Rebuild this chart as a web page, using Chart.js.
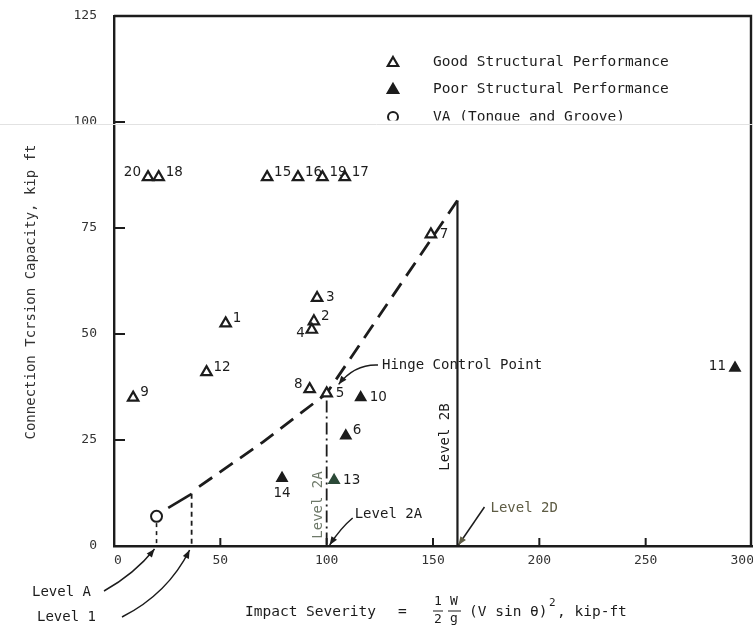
<!DOCTYPE html>
<html>
<head>
<meta charset="utf-8">
<script src="https://cdn.jsdelivr.net/npm/chart.js@4/dist/chart.umd.min.js"></script>
<style>
  html, body { margin: 0; padding: 0; background: #fff; }
  #wrap { width: 753px; height: 628px; }
</style>
</head>
<body>
<div id="wrap"><canvas id="c" width="753" height="628"></canvas></div>
<script>
// Axis ticks
const xTicks = [0, 50, 100, 150, 200, 250, 300];
const yTicks = [0, 25, 50, 75, 100, 125];

// Test results: impact severity (kip-ft) vs. connection torsion capacity (kip ft)
const goodIds = ['20', '18', '15', '16', '19', '17', '7', '3', '2', '4', '1', '12', '9', '8', '5'];
const goodX   = [16, 21, 72, 86.5, 98, 108.5, 149, 95.5, 94, 93, 52.5, 43.5, 9, 92, 100];
const goodY   = [87, 87, 87, 87, 87, 87, 73.5, 58.5, 53, 51, 52.5, 41, 35, 37, 36];

const poorIds = ['10', '6', '13', '14', '11'];
const poorX   = [116, 109, 103.5, 79, 292];
const poorY   = [35, 26, 15.5, 16, 42];

const vaX = [20];
const vaY = [7];

// Performance level boundaries
const lowSegX = [25.5, 36.5];
const lowSegY = [9, 12.3];
const curveX  = [40, 70, 100, 161.5];
const curveY  = [14, 24.5, 36, 81.5];
const levelAX  = [20, 20];       const levelAY  = [5.4, 0];
const level1X  = [36.5, 36.5];   const level1Y  = [12.3, 0];
const level2AX = [100, 100];     const level2AY = [34.3, 0];
const level2BX = [161.5, 161.5]; const level2BY = [81.5, 0];

const zip = (xs, ys) => xs.map((x, i) => ({ x, y: ys[i] }));

const INK = '#1c1c1c';
const MONO = '"DejaVu Sans Mono", "Liberation Mono", monospace';

// where each point number sits relative to its marker
const labelSide = {
  '20': 'nw', '18': 'ne', '15': 'ne', '16': 'ne', '19': 'ne', '17': 'ne',
  '7': 'e', '3': 'e', '2': 'ne', '4': 'sw', '1': 'ne', '12': 'ne', '9': 'ne',
  '8': 'nw', '5': 'e', '10': 'e', '6': 'ne', '13': 'e', '14': 's', '11': 'w'
};

function lineDs(xs, ys, dash, width) {
  return {
    type: 'line', data: zip(xs, ys), showLine: true, borderColor: INK,
    borderWidth: width, borderDash: dash, pointRadius: 0, fill: false, tension: 0
  };
}

function arrow(ctx, x0, y0, cx, cy, x1, y1) {
  ctx.beginPath();
  ctx.moveTo(x0, y0);
  ctx.quadraticCurveTo(cx, cy, x1, y1);
  ctx.stroke();
  const a = Math.atan2(y1 - cy, x1 - cx);
  const L = 9, W = 0.38;
  ctx.beginPath();
  ctx.moveTo(x1, y1);
  ctx.lineTo(x1 - L * Math.cos(a - W), y1 - L * Math.sin(a - W));
  ctx.lineTo(x1 - L * Math.cos(a + W), y1 - L * Math.sin(a + W));
  ctx.closePath();
  ctx.fill();
}

function tri(ctx, x, y, r, filled) {
  ctx.beginPath();
  ctx.moveTo(x, y - r);
  ctx.lineTo(x + 0.866 * r, y + r / 2);
  ctx.lineTo(x - 0.866 * r, y + r / 2);
  ctx.closePath();
  ctx.fillStyle = filled ? INK : '#fff';
  ctx.fill();
  ctx.lineWidth = 2.2; ctx.strokeStyle = INK; ctx.stroke();
}

const decor = {
  id: 'decor',
  afterDatasetsDraw(chart) {
    const { ctx, chartArea: a, scales: { x, y } } = chart;
    const px = v => x.getPixelForValue(v);
    const py = v => y.getPixelForValue(v);
    ctx.save();

    // frame: top and right edges
    ctx.strokeStyle = INK; ctx.lineWidth = 2.4;
    ctx.beginPath();
    ctx.moveTo(a.left, a.top); ctx.lineTo(a.right - 1, a.top); ctx.lineTo(a.right - 1, a.bottom);
    ctx.stroke();

    // inward tick marks and tick labels
    ctx.lineWidth = 2;
    ctx.fillStyle = '#333';
    ctx.font = '13px ' + MONO;
    ctx.textBaseline = 'middle';
    xTicks.forEach((v, i) => {
      const tx = px(v);
      const last = i === xTicks.length - 1;
      if (i > 0 && !last) {
        ctx.beginPath(); ctx.moveTo(tx, a.bottom); ctx.lineTo(tx, a.bottom - 8); ctx.stroke();
      }
      ctx.textAlign = last ? 'right' : 'center';
      ctx.fillText(String(v), i === 0 ? tx + 4 : (last ? tx + 2 : tx), a.bottom + 15);
    });
    yTicks.forEach((v, i) => {
      const ty = py(v);
      if (i > 0 && i < yTicks.length - 1) {
        ctx.beginPath(); ctx.moveTo(a.left, ty); ctx.lineTo(a.left + 11, ty); ctx.stroke();
      }
      ctx.textAlign = 'right';
      ctx.fillText(String(v), a.left - 17, ty);
    });

    // point numbers
    ctx.fillStyle = INK;
    ctx.font = '13.5px "DejaVu Sans", sans-serif';
    const putLabels = (dsIndex, ids) => {
      chart.getDatasetMeta(dsIndex).data.forEach((pt, i) => {
        const id = ids[i], s = labelSide[id];
        let tx = pt.x, ty = pt.y, al = 'left';
        if (s === 'ne') { tx += 7; ty -= 5; }
        else if (s === 'e') { tx += 9; }
        else if (s === 'nw') { tx -= 7; ty -= 5; al = 'right'; }
        else if (s === 'w') { tx -= 9; ty -= 1; al = 'right'; }
        else if (s === 'sw') { tx -= 7; ty += 4; al = 'right'; }
        else if (s === 's') { ty += 15; al = 'center'; }
        ctx.textAlign = al;
        ctx.fillText(id, tx, ty);
      });
    };
    putLabels(0, goodIds);
    putLabels(1, poorIds);

    // legend
    ctx.font = '14.5px ' + MONO;
    ctx.textAlign = 'left';
    tri(ctx, 393, 63, 6, false);
    tri(ctx, 393, 90, 6, true);
    ctx.fillStyle = INK;
    ctx.fillText('Good Structural Performance', 433, 62);
    ctx.fillText('Poor Structural Performance', 433, 89);
    ctx.beginPath(); ctx.arc(393, 117, 5, 0, Math.PI * 2);
    ctx.lineWidth = 2; ctx.strokeStyle = INK; ctx.stroke();
    ctx.fillText('VA (Tongue and Groove)', 433, 117);
    ctx.fillStyle = '#fff';
    ctx.fillRect(370, 120.5, 340, 4);
    ctx.strokeStyle = '#e2e2e2'; ctx.lineWidth = 1;
    ctx.beginPath(); ctx.moveTo(0, 124.5); ctx.lineTo(753, 124.5); ctx.stroke();

    // annotations
    const p5 = chart.getDatasetMeta(0).data[goodIds.indexOf('5')];
    ctx.fillStyle = INK; ctx.strokeStyle = INK; ctx.lineWidth = 1.5;
    ctx.font = '14px ' + MONO;
    ctx.fillText('Hinge Control Point', 382, 365);
    arrow(ctx, 378, 365, p5.x + 28, 364, p5.x + 12, p5.y - 9);

    const xA = px(levelAX[0]), x1 = px(level1X[0]), x2A = px(level2AX[0]), x2B = px(level2BX[0]);
    ctx.fillText('Level A', 32, 592);
    ctx.fillText('Level 1', 37, 617);
    arrow(ctx, 104, 591, xA - 22, 574, xA - 2, a.bottom + 3);
    arrow(ctx, 122, 617, x1 - 24, 594, x1 - 2, a.bottom + 4);

    ctx.fillText('Level 2A', x2A + 28, 514);
    arrow(ctx, x2A + 26, 518, x2A + 14, 528, x2A + 3, a.bottom - 1);

    ctx.fillStyle = '#5e5c44';
    ctx.fillText('Level 2D', x2B + 33, 508);
    arrow(ctx, x2B + 27, 507, x2B + 14, 526, x2B + 1, a.bottom - 1);

    // rotated level labels beside the vertical boundaries
    ctx.save();
    ctx.translate(x2B - 12, 437); ctx.rotate(-Math.PI / 2);
    ctx.fillStyle = INK; ctx.textAlign = 'center';
    ctx.fillText('Level 2B', 0, 0);
    ctx.restore();
    ctx.save();
    ctx.translate(x2A - 8, 505); ctx.rotate(-Math.PI / 2);
    ctx.fillStyle = '#6f7a6a'; ctx.textAlign = 'center';
    ctx.fillText('Level 2A', 0, 0);
    ctx.restore();

    // axis titles
    ctx.fillStyle = '#333';
    ctx.save();
    ctx.translate(31, 292); ctx.rotate(-Math.PI / 2);
    ctx.textAlign = 'center';
    ctx.font = '14px ' + MONO;
    ctx.fillText('Connection Tcrsion Capacity, kip ft', 0, 0);
    ctx.restore();

    ctx.fillStyle = INK;
    ctx.font = '14.5px ' + MONO;
    ctx.textAlign = 'left';
    ctx.fillText('Impact Severity', 245, 612);
    ctx.fillText('=', 398, 612);
    ctx.font = '13px ' + MONO;
    ctx.textAlign = 'center';
    ctx.fillText('1', 438, 602); ctx.fillText('2', 438, 620);
    ctx.fillText('W', 454, 602); ctx.fillText('g', 454, 619);
    ctx.lineWidth = 1.2;
    ctx.beginPath(); ctx.moveTo(433, 611); ctx.lineTo(443, 611); ctx.moveTo(448, 611); ctx.lineTo(461, 611); ctx.stroke();
    ctx.font = '14.5px ' + MONO;
    ctx.textAlign = 'left';
    ctx.fillText('(V sin \u03B8)', 469, 612);
    ctx.font = '11px ' + MONO;
    ctx.fillText('2', 549, 603);
    ctx.font = '14.5px ' + MONO;
    ctx.fillText(', kip-ft', 557, 612);

    ctx.restore();
  }
};

new Chart(document.getElementById('c'), {
  type: 'scatter',
  data: {
    datasets: [
      { label: 'Good Structural Performance', data: zip(goodX, goodY), pointStyle: 'triangle',
        pointRadius: 6, pointBorderWidth: 2.2, pointBackgroundColor: '#fff', pointBorderColor: INK },
      { label: 'Poor Structural Performance', data: zip(poorX, poorY), pointStyle: 'triangle',
        pointRadius: 6, pointBorderWidth: 1.5,
        pointBackgroundColor: poorIds.map(id => id === '13' ? '#2c4a38' : INK),
        pointBorderColor: poorIds.map(id => id === '13' ? '#2c4a38' : INK) },
      { label: 'VA (Tongue and Groove)', data: zip(vaX, vaY), pointStyle: 'circle',
        pointRadius: 5.5, pointBorderWidth: 2, pointBackgroundColor: '#fff', pointBorderColor: INK },
      lineDs(lowSegX, lowSegY, [], 2.6),
      lineDs(curveX, curveY, [16, 9], 2.8),
      lineDs(levelAX, levelAY, [4, 4], 1.6),
      lineDs(level1X, level1Y, [5, 4], 1.8),
      lineDs(level2AX, level2AY, [12, 4, 2, 4], 1.8),
      lineDs(level2BX, level2BY, [], 2.2)
    ]
  },
  options: {
    responsive: false,
    animation: false,
    events: [],
    layout: { autoPadding: false, padding: { left: 0, right: 1, top: 16, bottom: 0 } },
    plugins: { legend: { display: false }, tooltip: { enabled: false } },
    scales: {
      x: {
        type: 'linear', min: 0, max: 300,
        afterBuildTicks: s => { s.ticks = xTicks.map(v => ({ value: v })); },
        afterFit: s => { s.height = 82; s.paddingLeft = 0; s.paddingRight = 0; },
        grid: { display: false, drawTicks: false },
        border: { display: true, color: INK, width: 2.4 },
        ticks: { display: false }
      },
      y: {
        type: 'linear', min: 0, max: 125,
        afterBuildTicks: s => { s.ticks = yTicks.map(v => ({ value: v })); },
        afterFit: s => { s.width = 114; s.paddingTop = 0; s.paddingBottom = 0; },
        grid: { display: false, drawTicks: false },
        border: { display: true, color: INK, width: 2.4 },
        ticks: { display: false }
      }
    }
  },
  plugins: [decor]
});
</script>
</body>
</html>
